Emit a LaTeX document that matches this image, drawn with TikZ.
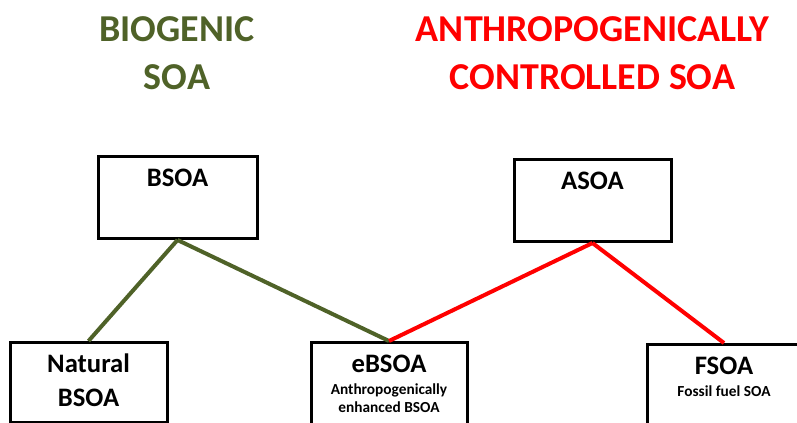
\documentclass[tikz,border=0pt]{standalone}
\usepackage{fontspec}
\setmainfont{Carlito}
\usetikzlibrary{positioning}
\definecolor{biogreen}{RGB}{79,98,40}
\definecolor{anthred}{RGB}{255,0,0}

\begin{document}
\begin{tikzpicture}[x=0.75pt, y=-0.75pt,
    soabox/.style={draw=black, line width=2.25pt, fill=white, inner sep=0pt, anchor=north, minimum height=61.5pt},
    headtext/.style={font=\fontsize{28.5}{36}\selectfont\bfseries, align=center, anchor=base},
    boxtext/.style={font=\fontsize{20}{25.5}\selectfont\bfseries, align=center, anchor=base},
    subtext/.style={font=\fontsize{11.5}{13.3}\selectfont\bfseries, align=center, anchor=base},
    greenlink/.style={biogreen, line width=3pt},
    redlink/.style={anthred, line width=3pt}]
    % Page frame
    \useasboundingbox (0,0) rectangle (797,423);
    \clip (0,0) rectangle (797,423);

    % Headings (base = last line)
    \node[headtext, biogreen] (biogenic) at (177,90) {BIOGENIC\\SOA};
    \node[headtext, anthred] (anthropo) at (592.5,90) {ANTHROPOGENICALLY\\CONTROLLED SOA};

    % Boxes
    \node[soabox, minimum width=119.25pt] (bsoa) at (177.5,155) {};
    \node[soabox, minimum width=117.75pt] (asoa) at (592.5,158) {};
    \node[soabox, minimum width=117.75pt, minimum height=60pt] (natural) at (88.5,341) {};
    \node[soabox, minimum width=117pt, minimum height=66pt] (ebsoa) at (389,341) {};
    \node[soabox, minimum width=115.5pt, minimum height=66pt] (fsoa) at (724,343) {};

    % Links
    \draw[greenlink] (bsoa.south) -- (natural.north);
    \draw[greenlink] (bsoa.south) -- (ebsoa.north);
    \draw[redlink] (asoa.south) -- (ebsoa.north);
    \draw[redlink] (asoa.south) -- (fsoa.north);

    % Box texts
    \node[boxtext] (bsoa-t) at (177.5,187) {BSOA};
    \node[boxtext] (asoa-t) at (592.5,190) {ASOA};
    \node[boxtext] (natural-t) at (88.5,407) {Natural\\BSOA};
    \node[boxtext] (ebsoa-t) at (389,373) {eBSOA};
    \node[subtext] (ebsoa-s) at (389,412.7) {Anthropogenically\\enhanced BSOA};
    \node[boxtext] (fsoa-t) at (724,375) {FSOA};
    \node[subtext] (fsoa-s) at (724,397) {Fossil fuel SOA};
\end{tikzpicture}
\end{document}
